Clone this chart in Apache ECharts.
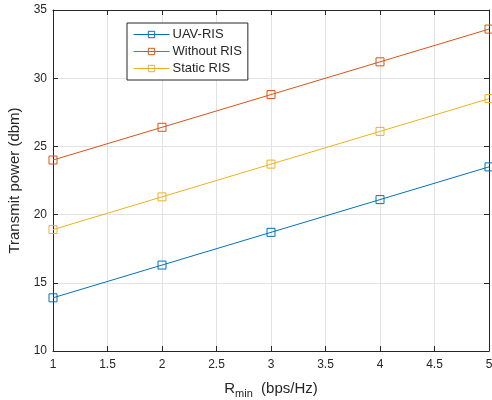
<!DOCTYPE html>
<html>
<head>
<meta charset="utf-8">
<script src="https://cdn.jsdelivr.net/npm/echarts@6/dist/echarts.min.js"></script>
<style>
  html, body { margin: 0; padding: 0; background: #fff; }
  #chart { width: 492px; height: 400px; }
</style>
</head>
<body>
<div id="chart"></div>
<script>
const rates = [1, 2, 3, 4, 5];
const uavRis = [13.9, 16.3, 18.7, 21.1, 23.5];
const withoutRis = [24.0, 26.4, 28.8, 31.2, 33.6];
const staticRis = [18.9, 21.3, 23.7, 26.1, 28.5];

const font = 'Liberation Sans, Arial, Helvetica, sans-serif';
const axisColor = '#262626';

const chart = echarts.init(document.getElementById('chart'));

const toPairs = (ys) => rates.map((x, i) => [x, ys[i]]);

const makeSeries = (name, ys, color) => ({
    name: name,
    type: 'line',
    data: toPairs(ys),
    symbol: 'rect',
    symbolSize: 8,
    lineStyle: { color: color, width: 1 },
    itemStyle: { color: 'rgba(255,255,255,0)', borderColor: color, borderWidth: 1 },
    emphasis: { disabled: true }
});

const hiddenAxis = {
    axisLine: { show: true, lineStyle: { color: axisColor, width: 1 } },
    axisTick: { show: true, inside: true, length: 5, lineStyle: { color: axisColor } },
    axisLabel: { show: false },
    splitLine: { show: false }
};

const option = {
    animation: false,
    grid: { left: 53, right: 3, top: 10, bottom: 49, outerBoundsMode: 'none' },
    legend: {
        orient: 'vertical',
        left: 127,
        top: 23,
        itemWidth: 36,
        itemHeight: 8,
        itemGap: 4,
        padding: [5, 6, 5, 6],
        backgroundColor: '#fff',
        borderColor: axisColor,
        borderWidth: 1,
        itemStyle: { borderWidth: 1, color: 'rgba(255,255,255,0)' },
        lineStyle: { width: 1 },
        textStyle: { fontFamily: font, fontSize: 13, color: axisColor, padding: [0, 0, 0, -2] },
        data: ['UAV-RIS', 'Without RIS', 'Static RIS']
    },
    xAxis: [{
        type: 'value',
        min: 1,
        max: 5,
        interval: 0.5,
        name: '{a|R}{b|min}{a|  (bps/Hz)}',
        nameLocation: 'middle',
        nameGap: 27,
        nameTextStyle: {
            rich: {
                a: { fontFamily: font, fontSize: 15, color: axisColor },
                b: { fontFamily: font, fontSize: 11, color: axisColor, verticalAlign: 'bottom', padding: [10, 0, 0, 0] }
            }
        },
        axisLine: { show: true, lineStyle: { color: axisColor, width: 1 } },
        axisTick: { show: true, inside: true, length: 5, lineStyle: { color: axisColor } },
        axisLabel: { fontFamily: font, fontSize: 12, color: axisColor, margin: 8 },
        splitLine: { show: true, lineStyle: { color: '#e3e3e3', width: 1 } }
    }, Object.assign({
        type: 'value', min: 1, max: 5, interval: 0.5, position: 'top'
    }, hiddenAxis)],
    yAxis: [{
        type: 'value',
        min: 10,
        max: 35,
        interval: 5,
        name: 'Transmit power (dbm)',
        nameLocation: 'middle',
        nameGap: 25,
        nameTextStyle: { fontFamily: font, fontSize: 15, color: axisColor },
        axisLine: { show: true, lineStyle: { color: axisColor, width: 1 } },
        axisTick: { show: true, inside: true, length: 5, lineStyle: { color: axisColor } },
        axisLabel: { fontFamily: font, fontSize: 12, color: axisColor, margin: 6 },
        splitLine: { show: true, lineStyle: { color: '#e3e3e3', width: 1 } }
    }, Object.assign({
        type: 'value', min: 10, max: 35, interval: 5, position: 'right'
    }, hiddenAxis)],
    series: [
        makeSeries('UAV-RIS', uavRis, '#0072BD'),
        makeSeries('Without RIS', withoutRis, '#D95319'),
        makeSeries('Static RIS', staticRis, '#EDB120')
    ]
};

chart.setOption(option);
</script>
</body>
</html>
